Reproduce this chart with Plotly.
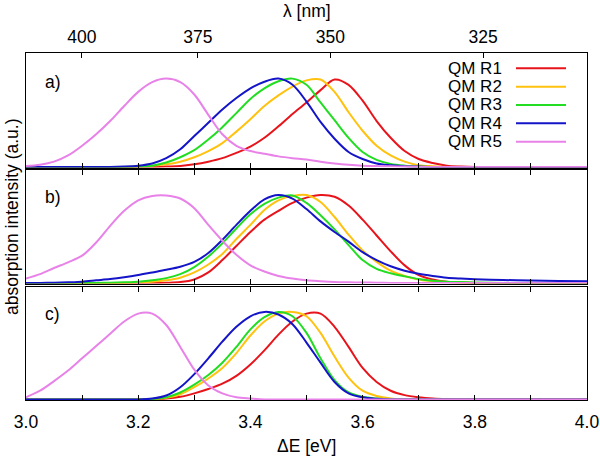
import plotly.graph_objects as go

# ---------------- data ----------------
E = [3.000, 3.025, 3.050, 3.075, 3.100, 3.125, 3.150, 3.175, 3.200, 3.225,
     3.250, 3.275, 3.300, 3.325, 3.350, 3.375, 3.400, 3.425, 3.450, 3.475,
     3.500, 3.525, 3.550, 3.575, 3.600, 3.625, 3.650, 3.675, 3.700, 3.725,
     3.750, 3.775, 3.800, 3.850, 3.900, 3.950, 4.000]

NAMES = ["QM R1", "QM R2", "QM R3", "QM R4", "QM R5"]
COLORS = ["#e8141b", "#ffc20e", "#22dd22", "#1414c8", "#e882e8"]
PANEL_LABELS = ["a)", "b)", "c)"]

# panel a
R1a = [0, 0, 0, 0, 0, 0, 0, 0, 0, 0,
       0.005, 0.01, 0.03, 0.06, 0.10, 0.16, 0.23, 0.33, 0.46, 0.60,
       0.73, 0.87, 0.99, 0.93, 0.75, 0.52, 0.33, 0.18, 0.09, 0.045,
       0.015, 0.005, 0, 0, 0, 0, 0]
R2a = [0, 0, 0, 0, 0, 0, 0, 0, 0.005, 0.015,
       0.03, 0.06, 0.11, 0.18, 0.27, 0.40, 0.54, 0.69, 0.81, 0.91,
       0.98, 0.99, 0.85, 0.62, 0.41, 0.24, 0.13, 0.06, 0.02, 0.008,
       0, 0, 0, 0, 0, 0, 0]
R3a = [0, 0, 0, 0, 0, 0, 0, 0, 0.005, 0.015,
       0.05, 0.11, 0.19, 0.31, 0.45, 0.61, 0.77, 0.89, 0.97, 1.0,
       0.93, 0.73, 0.53, 0.33, 0.17, 0.08, 0.035, 0.015, 0.005, 0,
       0, 0, 0, 0, 0, 0, 0]
R4a = [0, 0, 0, 0, 0, 0, 0, 0.005, 0.015, 0.04,
       0.10, 0.20, 0.35, 0.50, 0.65, 0.78, 0.89, 0.965, 1.0, 0.93,
       0.74, 0.51, 0.32, 0.17, 0.09, 0.04, 0.02, 0.008, 0.004, 0,
       0, 0, 0, 0, 0, 0, 0]
R5a = [0.01, 0.025, 0.06, 0.13, 0.24, 0.37, 0.52, 0.69, 0.85, 0.96,
       1.0, 0.96, 0.82, 0.59, 0.37, 0.24, 0.18, 0.15, 0.12, 0.10,
       0.085, 0.06, 0.04, 0.025, 0.015, 0.01, 0.007, 0.004, 0.002, 0,
       0, 0, 0, 0, 0, 0, 0]

# panel b
R1b = [0, 0, 0, 0, 0, 0, 0, 0, 0, 0,
       0.003, 0.01, 0.04, 0.12, 0.26, 0.42, 0.58, 0.72, 0.82, 0.91,
       0.97, 1.0, 0.98, 0.88, 0.72, 0.54, 0.36, 0.20, 0.09, 0.04,
       0.015, 0.005, 0, 0, 0, 0, 0]
R2b = [0, 0, 0, 0, 0, 0, 0, 0, 0.008, 0.015,
       0.03, 0.06, 0.12, 0.21, 0.33, 0.50, 0.66, 0.83, 0.94, 0.99,
       1.0, 0.92, 0.75, 0.55, 0.37, 0.24, 0.14, 0.08, 0.04, 0.02,
       0.01, 0.004, 0, 0, 0, 0, 0]
R3b = [0, 0, 0, 0, 0, 0, 0.003, 0.008, 0.015, 0.03,
       0.055, 0.10, 0.18, 0.30, 0.45, 0.62, 0.78, 0.90, 0.97, 0.995,
       0.91, 0.77, 0.61, 0.43, 0.26, 0.16, 0.11, 0.075, 0.045, 0.025,
       0.015, 0.01, 0.005, 0, 0, 0, 0]
R4b = [0, 0.001, 0.003, 0.008, 0.015, 0.03, 0.045, 0.065, 0.09, 0.12,
       0.15, 0.185, 0.24, 0.34, 0.49, 0.66, 0.82, 0.95, 1.0, 0.96,
       0.84, 0.70, 0.58, 0.47, 0.35, 0.26, 0.19, 0.14, 0.105, 0.08,
       0.06, 0.05, 0.043, 0.034, 0.027, 0.023, 0.02]
R5b = [0.05, 0.10, 0.17, 0.235, 0.31, 0.46, 0.65, 0.82, 0.94, 0.99,
       0.995, 0.96, 0.85, 0.66, 0.48, 0.32, 0.20, 0.13, 0.08, 0.05,
       0.03, 0.02, 0.012, 0.008, 0.005, 0.003, 0, 0, 0, 0,
       0, 0, 0, 0, 0, 0, 0]

# panel c
R1c = [0, 0, 0, 0, 0, 0, 0, 0, 0, 0.003,
       0.01, 0.03, 0.07, 0.12, 0.18, 0.27, 0.40, 0.56, 0.74, 0.89,
       0.98, 0.98, 0.83, 0.60, 0.36, 0.20, 0.10, 0.05, 0.025, 0.01,
       0.003, 0, 0, 0, 0, 0, 0]
R2c = [0, 0, 0, 0, 0, 0, 0, 0, 0, 0.005,
       0.02, 0.06, 0.14, 0.24, 0.36, 0.53, 0.73, 0.89, 0.98, 1.0,
       0.95, 0.76, 0.49, 0.25, 0.10, 0.04, 0.012, 0, 0, 0,
       0, 0, 0, 0, 0, 0, 0]
R3c = [0, 0, 0, 0, 0, 0, 0, 0, 0, 0.005,
       0.025, 0.08, 0.17, 0.28, 0.42, 0.60, 0.80, 0.94, 1.0, 0.95,
       0.76, 0.47, 0.22, 0.08, 0.03, 0.01, 0, 0, 0, 0,
       0, 0, 0, 0, 0, 0, 0]
R4c = [0, 0, 0, 0, 0, 0, 0, 0, 0, 0.01,
       0.045, 0.14, 0.29, 0.47, 0.66, 0.83, 0.95, 1.0, 0.97, 0.86,
       0.65, 0.42, 0.20, 0.07, 0.025, 0.008, 0, 0, 0, 0,
       0, 0, 0, 0, 0, 0, 0]
R5c = [0.025, 0.10, 0.21, 0.33, 0.47, 0.61, 0.75, 0.89, 0.98, 0.98,
       0.85, 0.60, 0.34, 0.16, 0.07, 0.025, 0.01, 0, 0, 0,
       0, 0, 0, 0, 0, 0, 0, 0, 0, 0,
       0, 0, 0, 0, 0, 0, 0]

PANELS = [[R1a, R2a, R3a, R4a, R5a],
          [R1b, R2b, R3b, R4b, R5b],
          [R1c, R2c, R3c, R4c, R5c]]

X_TICKS = [3.0, 3.1, 3.2, 3.3, 3.4, 3.5, 3.6, 3.7, 3.8, 3.9, 4.0]
X_TICK_LABELS = ["3.0", "", "3.2", "", "3.4", "", "3.6", "", "3.8", "", "4.0"]
LAMBDA_TICKS = [400, 375, 350, 325]
HC = 1239.84  # eV nm

# ---------------- layout helpers ----------------
W, H = 600, 457
L, R, T, B = 26, 13, 53, 57
PW, PH = W - L - R, H - T - B


def px_x(px):
    return (px - L) / PW


def px_y(py):
    return (H - B - py) / PH


DOMAINS = [[px_y(167.5), 1.0], [px_y(283.5), px_y(169.5)], [0.0, px_y(286.5)]]
FONT = "Liberation Sans, Arial, Helvetica, sans-serif"
FS = 17.5
FS_LEG = 17

fig = go.Figure()
for i, series in enumerate(PANELS):
    xa = "x" if i == 0 else f"x{i+1}"
    ya = "y" if i == 0 else f"y{i+1}"
    for name, vals, col in zip(NAMES, series, COLORS):
        fig.add_trace(go.Scatter(x=E, y=vals, mode="lines", name=name,
                                 line=dict(color=col, width=2, shape="spline", smoothing=0.9),
                                 xaxis=xa, yaxis=ya, showlegend=False, hoverinfo="skip"))
# empty trace for the top wavelength axis
fig.add_trace(go.Scatter(x=[], y=[], xaxis="x4", yaxis="y", showlegend=False))

common_x = dict(range=[3, 4], showgrid=False, zeroline=False, showline=True,
                linecolor="black", linewidth=1, ticks="inside", ticklen=5,
                tickcolor="black", tickvals=X_TICKS, automargin=False,
                tickfont=dict(family=FONT, size=FS, color="black"))
common_y = dict(range=[-0.006, 1.29], showgrid=False, zeroline=False, showline=True,
                linecolor="black", linewidth=1, mirror=True, ticks="",
                showticklabels=False, automargin=False)

layout = dict(
    width=W, height=H, margin=dict(l=L, r=R, t=T, b=B, autoexpand=False),
    paper_bgcolor="white", plot_bgcolor="white",
    font=dict(family=FONT, size=FS, color="black"),
    xaxis=dict(common_x, anchor="y", mirror=True, showticklabels=False),
    xaxis2=dict(common_x, anchor="y2", mirror="ticks", showticklabels=False),
    xaxis3=dict(common_x, anchor="y3", mirror="ticks", ticktext=X_TICK_LABELS,
                ticklabelstandoff=6),
    xaxis4=dict(range=[3, 4], overlaying="x", side="top", anchor="y",
                showgrid=False, zeroline=False, showline=False, automargin=False,
                ticks="inside", ticklen=5, tickcolor="black",
                tickvals=[HC / l for l in LAMBDA_TICKS],
                ticktext=[str(l) for l in LAMBDA_TICKS],
                ticklabelstandoff=6,
                tickfont=dict(family=FONT, size=FS, color="black")),
    yaxis=dict(common_y, domain=DOMAINS[0], anchor="x"),
    yaxis2=dict(common_y, domain=DOMAINS[1], anchor="x2"),
    yaxis3=dict(common_y, domain=DOMAINS[2], anchor="x3"),
)
fig.update_layout(**layout)

ann = []
# panel labels
for lab, py in zip(PANEL_LABELS, [81.5, 197, 314]):
    ann.append(dict(text=lab, x=px_x(43), y=px_y(py), xref="paper", yref="paper",
                    xanchor="left", yanchor="middle", showarrow=False,
                    font=dict(family=FONT, size=FS, color="black")))
# axis titles
ann.append(dict(text="ΔE [eV]", x=px_x(306), y=px_y(446), xref="paper", yref="paper",
                xanchor="center", yanchor="middle", showarrow=False,
                font=dict(family=FONT, size=FS, color="black")))
ann.append(dict(text="λ [nm]", x=px_x(307), y=px_y(11), xref="paper", yref="paper",
                xanchor="center", yanchor="middle", showarrow=False,
                font=dict(family=FONT, size=FS, color="black")))
ann.append(dict(text="absorption intensity (a.u.)", x=px_x(12), y=px_y(217),
                xref="paper", yref="paper", xanchor="center", yanchor="middle",
                textangle=-90, showarrow=False,
                font=dict(family=FONT, size=FS, color="black")))

# legend (text then line sample, gnuplot style)
shapes = []
for k, (name, col) in enumerate(zip(NAMES, COLORS)):
    py = 68.3 + k * 18.35
    ann.append(dict(text=name, x=px_x(503), y=px_y(py), xref="paper", yref="paper",
                    xanchor="right", yanchor="middle", showarrow=False, borderpad=0,
                    font=dict(family=FONT, size=FS_LEG, color="black")))
    shapes.append(dict(type="line", xref="paper", yref="paper",
                       x0=px_x(516), x1=px_x(566), y0=px_y(py), y1=px_y(py),
                       line=dict(color=col, width=2)))

fig.update_layout(annotations=ann, shapes=shapes)
fig.write_html("out.html", config={"displayModeBar": False},
               post_script="document.body.style.margin='0';document.body.style.overflow='hidden';")
